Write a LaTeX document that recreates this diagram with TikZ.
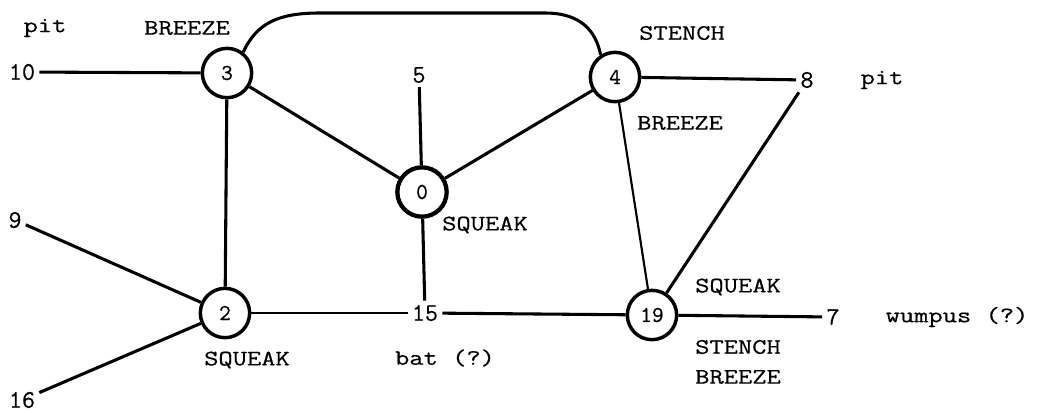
\documentclass[tikz,border=0pt]{standalone}
\usepackage{fontspec}
\setmonofont[FakeStretch=1.26,FakeBold=0.6]{Latin Modern Mono}
\newfontfamily\numfont[FakeBold=0.6]{Latin Modern Mono}
\usepackage{tikz}
\usepackage{xcolor}

\tikzset{
  room/.style={draw, circle, line width=2.6pt, minimum size=37pt, inner sep=0pt,
    font=\numfont\fontsize{17}{19}\selectfont},
  num/.style={inner sep=3pt, font=\numfont\fontsize{19}{21}\selectfont},
  lbl/.style={inner sep=0pt},
  tunnel/.style={line width=2.3pt},
  thintunnel/.style={line width=1.6pt}
}

\begin{document}
\begin{tikzpicture}[x=0.75pt,y=0.75pt,yscale=-1,xscale=1,
  font=\ttfamily\fontsize{16.5}{19}\selectfont]
\path[use as bounding box] (0,0) rectangle (1039,412);

%Shape: Circles
\node[room] (n3) at (227,73) {3};
\node[room] (n4) at (615,77) {4};
\node[room, line width=3.2pt] (n0) at (422,192) {0};
\node[room] (n2) at (225,313) {2};
\node[room] (n19) at (652,315) {19};

% Text Node
\node[num] (n10) at (22,72) {10};
\node[num] (n5) at (419,75) {5};
\node[num] (n8) at (807,80) {8};
\node[num] (n9) at (15,220) {9};
\node[num] (n16) at (22,400) {16};
\node[num] (n15) at (425,313) {15};
\node[num] (n7) at (833,317) {7};

% Text Node
\node[lbl] (pit10) at (45,28) {pit};
\node[lbl] (breeze3) at (187,28) {BREEZE};
\node[lbl] (stench4) at (682,33) {STENCH};
\node[lbl] (breeze4) at (680,123) {BREEZE};
\node[lbl] (pit8) at (882,80) {pit};
\node[lbl] (squeak0) at (485,225) {SQUEAK};
\node[lbl] (squeak2) at (247,360) {SQUEAK};
\node[lbl] (bat15) at (445,358) {bat (?)};
\node[lbl] (squeak19) at (738,287) {SQUEAK};
\node[lbl] (stench19) at (738,347) {STENCH};
\node[lbl] (breeze19) at (738,377) {BREEZE};
\node[lbl] (wumpus7) at (957,317) {wumpus (?)};

%Straight Lines
\draw[tunnel] (n10) -- (n3);
\draw[tunnel] (n3) -- (n0);
\draw[tunnel] (n3) -- (n2);
\draw[tunnel] (n5) -- (n0);
\draw[tunnel] (n0) -- (n4);
\draw[tunnel] (n0) -- (n15);
\draw[tunnel] (n4) -- (n8);
\draw[thintunnel] (n4) -- (n19);
\draw[tunnel] (n8) -- (n19);
\draw[tunnel] (n9) -- (n2);
\draw[tunnel] (n16) -- (n2);
\draw[thintunnel] (n2) -- (n15);
\draw[tunnel] (n15) -- (n19);
\draw[tunnel] (n19) -- (n7);

%Curve over the top
\coordinate (archL) at (320,13);
\coordinate (archR) at (545,13);
\draw[tunnel] (n3.52) .. controls (257,22) and (280,13) .. (archL) -- (archR)
  .. controls (582,13) and (596,32) .. (n4.123);

\end{tikzpicture}
\end{document}
